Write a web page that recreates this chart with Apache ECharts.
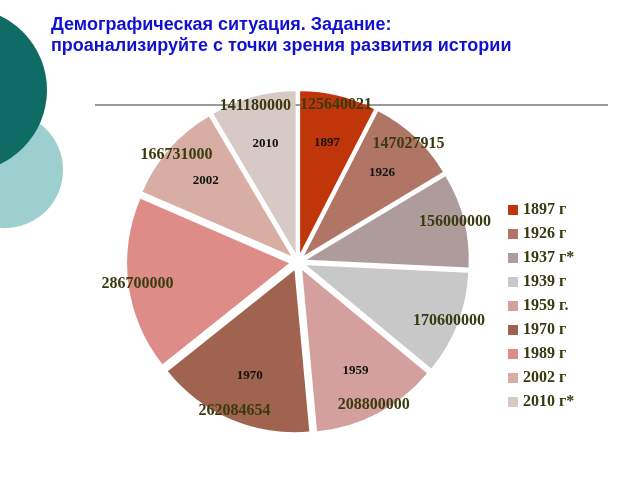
<!DOCTYPE html><html><head><meta charset="utf-8"><script src="https://cdn.jsdelivr.net/npm/echarts@6/dist/echarts.min.js"></script></head><body style="margin:0"><div id="c" style="width:640px;height:480px"></div><script>
const names=['1897 г','1926 г','1937 г*','1939 г','1959 г.','1970 г','1989 г','2002 г','2010 г*'];
const years=['1897','1926','1937','1939','1959','1970','1989','2002','2010'];
const values=[125640021,147027915,156000000,170600000,208800000,262084654,286700000,166731000,141180000];
const colors=['#c0360a','#b07565','#ae9c9c','#c8c8c8','#d4a09e','#a0634f','#de8c87','#d8aea4','#d6c9c6'];
const ch=echarts.init(document.getElementById('c'));
const base={type:'pie',center:[298,262],startAngle:90,clockwise:true,selectedMode:'multiple',selectedOffset:9,animation:false,labelLine:{show:false},emphasis:{disabled:true}};
const lbl={show:true,position:'inside',fontFamily:'Liberation Serif',fontWeight:'bold'};
ch.setOption({
 backgroundColor:'#fff',
 title:{text:'Демографическая ситуация. Задание:\nпроанализируйте с точки зрения развития истории',left:46,top:10,textStyle:{fontFamily:'Liberation Sans',fontWeight:'bold',fontSize:18,color:'#1010d0',lineHeight:21}},
 legend:{orient:'vertical',left:503,top:197,itemWidth:10,itemHeight:10,itemGap:8,icon:'rect',data:names,textStyle:{fontFamily:'Liberation Serif',fontWeight:'bold',fontSize:16,color:'#3a3a10'}},
 graphic:[
  {type:'circle',shape:{cx:5,cy:170,r:58},style:{fill:'#9dcfcf'},z:-1},
  {type:'circle',shape:{cx:-35,cy:90,r:82},style:{fill:'#0f6b66'},z:-1},
  {type:'line',shape:{x1:95,y1:105,x2:608,y2:105},style:{stroke:'#777',lineWidth:1.5},z:-1}
 ],
 series:[
  Object.assign({},base,{radius:[0,162],data:names.map((n,i)=>({name:n,value:values[i],selected:true,itemStyle:{color:colors[i]}})),label:{show:false}}),
  Object.assign({},base,{radius:[60,162],silent:true,legendHoverLink:false,data:names.map((n,i)=>({name:n,value:values[i],selected:true,itemStyle:{color:'rgba(0,0,0,0)'},label:{formatter:years[i]}})),
   label:Object.assign({},lbl,{fontSize:13,color:'#111'})}),
  Object.assign({},base,{radius:[100,200],silent:true,legendHoverLink:false,data:names.map((n,i)=>({name:n,value:values[i],selected:true,itemStyle:{color:'rgba(0,0,0,0)'}})),
   label:Object.assign({},lbl,{formatter:'{c}',fontSize:16,color:'#3a3a10'})})
 ]
});
</script></body></html>
